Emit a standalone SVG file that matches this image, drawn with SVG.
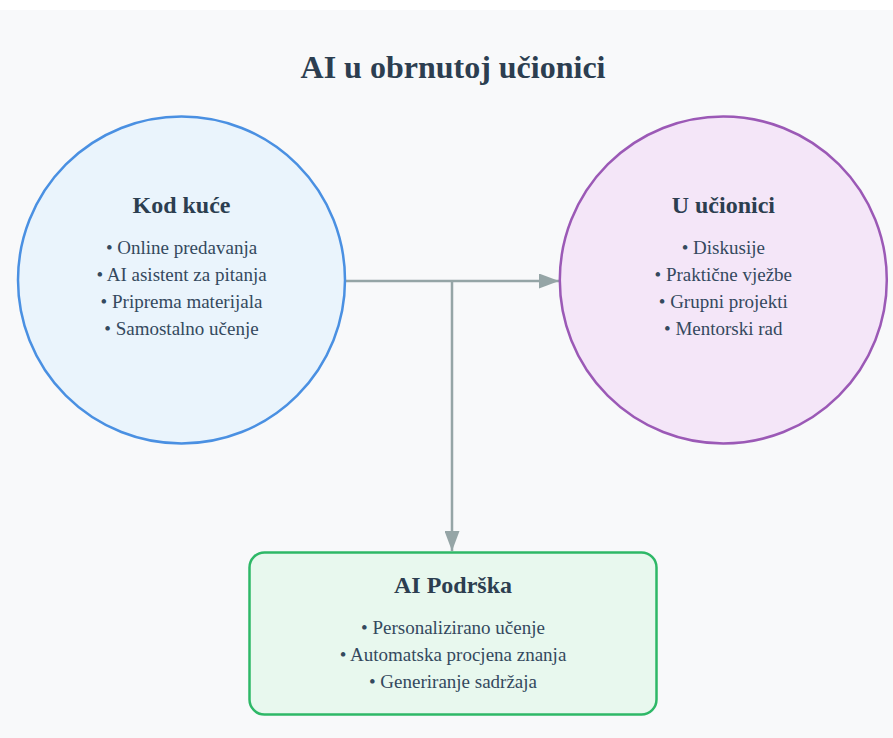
<svg xmlns="http://www.w3.org/2000/svg" width="893" height="738" viewBox="0 0 893 738">
  <defs>
    <style>
      .title { font-family: "Liberation Serif", "Times New Roman", serif; font-weight: bold; fill: #2c3e50; text-anchor: middle; }
      .head { font-family: "Liberation Serif", "Times New Roman", serif; font-weight: bold; font-size: 24px; fill: #2c3e50; text-anchor: middle; }
      .item { font-family: "Liberation Serif", "Times New Roman", serif; font-size: 19px; fill: #34495e; text-anchor: middle; }
      .conn { stroke: #95a5a6; stroke-width: 2.5; fill: none; }
    </style>
    <marker id="arrow" viewBox="0 0 20 15" refX="20" refY="7.5" markerWidth="20" markerHeight="15" markerUnits="userSpaceOnUse" orient="auto">
      <path d="M0,0 L20,7.5 L0,15 Z" fill="#95a5a6"/>
    </marker>
  </defs>
  <rect x="0" y="0" width="893" height="738" fill="#ffffff"/>
  <rect x="0" y="10" width="893" height="728" fill="#f8f9fa"/>
  <text class="title" x="453" y="78" font-size="32">AI u obrnutoj učionici</text>

  <g id="connectors">
    <line class="conn" x1="345" y1="281" x2="559" y2="281" marker-end="url(#arrow)"/>
    <line class="conn" x1="452" y1="281" x2="452" y2="551" marker-end="url(#arrow)"/>
  </g>

  <g id="kod-kuce">
    <circle cx="181.5" cy="280" r="163.5" fill="#eaf4fc" stroke="#4a90e2" stroke-width="2.5"/>
    <text class="head" x="181.5" y="213">Kod kuće</text>
    <text class="item" x="181.5" y="254">• Online predavanja</text>
    <text class="item" x="181.5" y="281">• AI asistent za pitanja</text>
    <text class="item" x="181.5" y="308">• Priprema materijala</text>
    <text class="item" x="181.5" y="335">• Samostalno učenje</text>
  </g>

  <g id="u-ucionici">
    <circle cx="723.3" cy="280" r="163.5" fill="#f4e6f8" stroke="#9b59b6" stroke-width="2.5"/>
    <text class="head" x="723.3" y="213">U učionici</text>
    <text class="item" x="723.3" y="254">• Diskusije</text>
    <text class="item" x="723.3" y="281">• Praktične vježbe</text>
    <text class="item" x="723.3" y="308">• Grupni projekti</text>
    <text class="item" x="723.3" y="335">• Mentorski rad</text>
  </g>

  <g id="ai-podrska">
    <rect x="249.5" y="552.5" width="407" height="162" rx="15" ry="15" fill="#e8f8ee" stroke="#2eb867" stroke-width="2.5"/>
    <text class="head" x="453" y="593">AI Podrška</text>
    <text class="item" x="453" y="634">• Personalizirano učenje</text>
    <text class="item" x="453" y="661">• Automatska procjena znanja</text>
    <text class="item" x="453" y="688">• Generiranje sadržaja</text>
  </g>
</svg>
